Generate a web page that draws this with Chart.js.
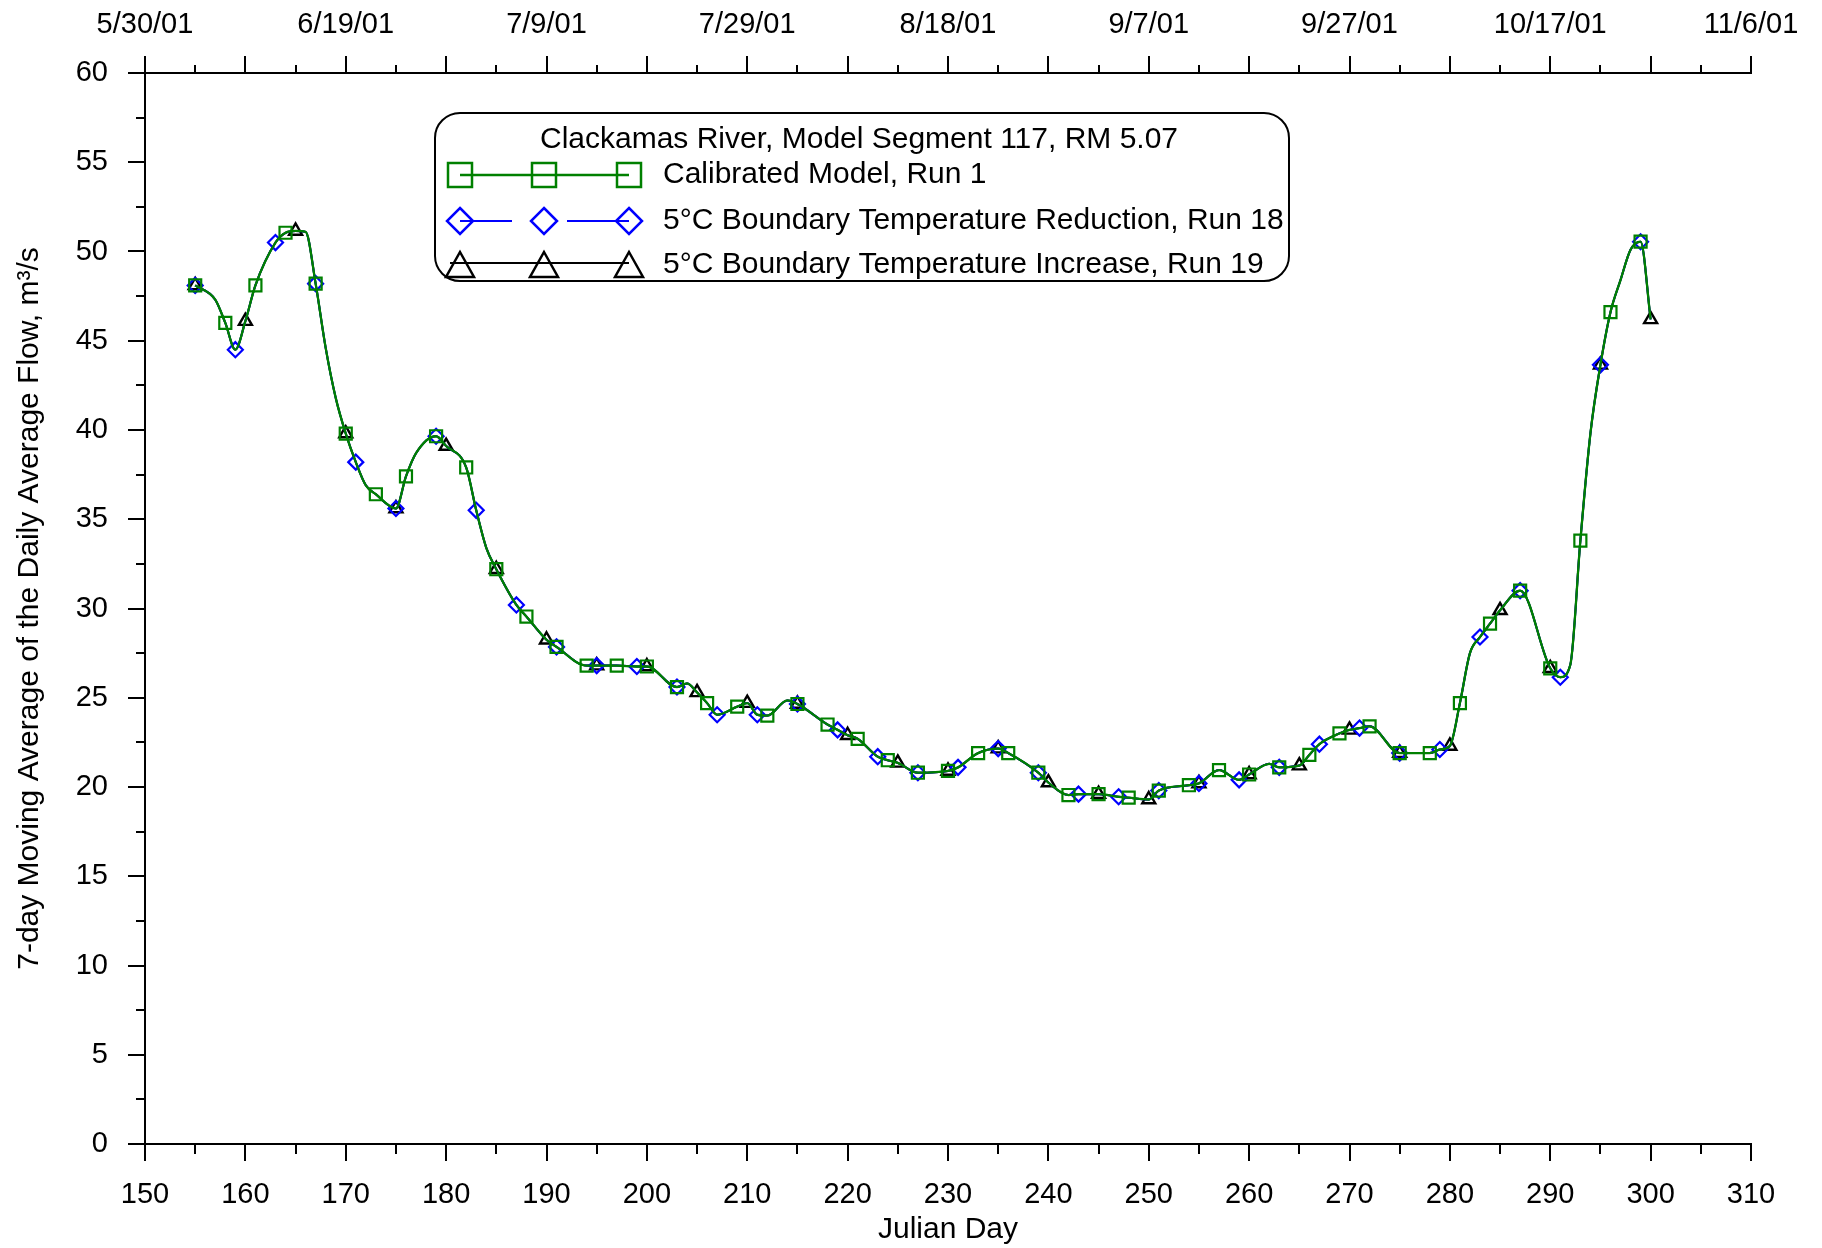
<!DOCTYPE html>
<html>
<head>
<meta charset="utf-8">
<title>Clackamas River, Model Segment 117</title>
<script src="https://cdn.jsdelivr.net/npm/chart.js@4.4.1/dist/chart.umd.min.js"></script>
<style>
  html, body { margin: 0; padding: 0; background: #fff; }
</style>
</head>
<body>
<canvas id="flowChart" width="1822" height="1248"></canvas>
<script>
// Julian day / 7-day average flow (m3/s).
// The three runs give the same flow, so their curves lie on top of each other;
// they differ only in where the markers sit.
var flowDays = [155, 157, 158, 159, 160, 161, 163, 164, 165, 166,
  167, 168, 169, 170, 171, 172, 173, 175, 176, 177,
  179, 180, 182, 183, 184, 185, 187, 188, 190, 191,
  194, 195, 197, 199, 200, 203, 204, 205, 206, 207,
  209, 210, 211, 212, 214, 215, 218, 219, 220, 221,
  223, 224, 225, 227, 230, 231, 233, 235, 236, 239,
  240, 242, 243, 245, 247, 248, 250, 251, 254, 255,
  257, 259, 260, 262, 263, 265, 266, 267, 269, 270,
  271, 272, 275, 278, 279, 280, 281, 282, 283, 284,
  285, 287, 290, 291, 292, 293, 294, 295, 296, 297,
  298, 299, 300];
var simFlow = [48.1, 47.3, 46.0, 44.5, 46.1, 48.1, 50.5, 51.05, 51.15, 51.1,
  48.2, 44.6, 41.8, 39.8, 38.2, 36.9, 36.4, 35.6, 37.4, 38.7,
  39.65, 39.1, 37.9, 35.5, 33.4, 32.2, 30.2, 29.55, 28.25, 27.85,
  26.8, 26.8, 26.8, 26.75, 26.75, 25.6, 25.8, 25.3, 24.7, 24.05,
  24.5, 24.7, 24.05, 24.0, 24.85, 24.65, 23.5, 23.2, 22.9, 22.7,
  21.7, 21.5, 21.35, 20.8, 20.9, 21.1, 21.9, 22.15, 21.9, 20.8,
  20.25, 19.55, 19.6, 19.6, 19.45, 19.4, 19.3, 19.8, 20.1, 20.2,
  20.95, 20.4, 20.7, 21.3, 21.1, 21.2, 21.8, 22.4, 23.0, 23.2,
  23.3, 23.4, 21.9, 21.9, 22.1, 22.3, 24.7, 27.5, 28.4, 29.15,
  29.9, 31.0, 26.65, 26.15, 26.85, 33.8, 39.8, 43.65, 46.6, 48.4,
  50.1, 50.55, 46.2];

// marker spacing in days for run 1, run 18, run 19 (all start on day 155)
var markerStep = [3, 4, 5];

// top axis dates, one every 20 days from day 150
var dateTickLabels = ['5/30/01', '6/19/01', '7/9/01', '7/29/01', '8/18/01',
  '9/7/01', '9/27/01', '10/17/01', '11/6/01'];

var boxTitle = 'Clackamas River, Model Segment 117, RM 5.07';
var seriesNames = ['Calibrated Model, Run 1',
  '5\u00B0C Boundary Temperature Reduction, Run 18',
  '5\u00B0C Boundary Temperature Increase, Run 19'];

var FONT = "'Liberation Sans', Arial, sans-serif";

function toPoints(days, vals) {
  return days.map(function (d, i) { return { x: d, y: vals[i] }; });
}

function markerRadius(step, r) {
  return function (c) {
    return (flowDays[c.dataIndex] - 155) % step === 0 ? r : 0;
  };
}

// minor tick marks (Chart.js only does one tick length per axis)
var minorTicks = {
  id: 'minorTicks',
  afterDraw: function (chart) {
    var ctx = chart.ctx, x = chart.scales.x, x2 = chart.scales.x2, y = chart.scales.y;
    ctx.save();
    ctx.strokeStyle = '#000';
    ctx.lineWidth = 2;
    ctx.beginPath();
    for (var d = 155; d < 310; d += 10) {
      var px = Math.round(x.getPixelForValue(d));
      ctx.moveTo(px, x.top);
      ctx.lineTo(px, x.top + 10);
      ctx.moveTo(px, x2.bottom);
      ctx.lineTo(px, x2.bottom - 8);
    }
    for (var v = 2.5; v < 60; v += 5) {
      var py = Math.round(y.getPixelForValue(v));
      ctx.moveTo(y.right, py);
      ctx.lineTo(y.right - 9, py);
    }
    ctx.stroke();
    ctx.restore();
  }
};

// rounded legend box with its own title
var legendBox = {
  id: 'legendBox',
  afterDraw: function (chart) {
    var ctx = chart.ctx, area = chart.chartArea;
    var left = area.left + 290, top = area.top + 40;
    var w = 854, h = 168, r = 25;
    ctx.save();
    ctx.beginPath();
    ctx.moveTo(left + r, top);
    ctx.lineTo(left + w - r, top);
    ctx.arcTo(left + w, top, left + w, top + r, r);
    ctx.lineTo(left + w, top + h - r);
    ctx.arcTo(left + w, top + h, left + w - r, top + h, r);
    ctx.lineTo(left + r, top + h);
    ctx.arcTo(left, top + h, left, top + h - r, r);
    ctx.lineTo(left, top + r);
    ctx.arcTo(left, top, left + r, top, r);
    ctx.closePath();
    ctx.fillStyle = '#fff';
    ctx.fill();
    ctx.strokeStyle = '#000';
    ctx.lineWidth = 2;
    ctx.stroke();

    ctx.fillStyle = '#000';
    ctx.font = '30px ' + FONT;
    ctx.textBaseline = 'middle';
    ctx.textAlign = 'center';
    ctx.fillText(boxTitle, left + w / 2 - 3, top + 27);

    var rows = [top + 62, top + 108, top + 152];
    var sx = [left + 25, left + 109, left + 194];
    ctx.textAlign = 'left';
    rows.forEach(function (ry, i) {
      ctx.fillText(seriesNames[i], left + 228, ry);
    });

    ctx.lineWidth = 2.5;
    // green squares
    ctx.strokeStyle = '#008000';
    ctx.beginPath();
    ctx.moveTo(sx[0], rows[0]);
    ctx.lineTo(sx[2], rows[0]);
    ctx.stroke();
    sx.forEach(function (cx) { ctx.strokeRect(cx - 12, rows[0] - 12, 24, 24); });
    // blue diamonds
    ctx.strokeStyle = '#0000ff';
    ctx.lineWidth = 2;
    ctx.beginPath();
    ctx.moveTo(sx[0], rows[1]);
    ctx.lineTo(sx[1] - 32, rows[1]);
    ctx.moveTo(sx[1] + 23, rows[1]);
    ctx.lineTo(sx[2], rows[1]);
    ctx.stroke();
    ctx.lineWidth = 2.5;
    sx.forEach(function (cx) {
      ctx.beginPath();
      ctx.moveTo(cx, rows[1] - 13);
      ctx.lineTo(cx + 13, rows[1]);
      ctx.lineTo(cx, rows[1] + 13);
      ctx.lineTo(cx - 13, rows[1]);
      ctx.closePath();
      ctx.stroke();
    });
    // black triangles
    ctx.strokeStyle = '#000';
    ctx.lineWidth = 2;
    ctx.beginPath();
    ctx.moveTo(sx[0] - 10, rows[2] - 2);
    ctx.lineTo(sx[2], rows[2] - 2);
    ctx.stroke();
    ctx.lineWidth = 2.5;
    sx.forEach(function (cx) {
      ctx.beginPath();
      ctx.moveTo(cx, rows[2] - 13);
      ctx.lineTo(cx + 14, rows[2] + 12);
      ctx.lineTo(cx - 14, rows[2] + 12);
      ctx.closePath();
      ctx.stroke();
    });
    ctx.restore();
  }
};

var axisGrid = {
  display: true,
  drawOnChartArea: false,
  drawTicks: true,
  tickLength: 17,
  tickWidth: 2,
  tickColor: '#000',
  color: '#000',
  lineWidth: 2
};
var axisBorder = { display: true, color: '#000', width: 2 };
var tickFont = { family: FONT, size: 29 };
var titleFont = { family: FONT, size: 30 };

new Chart(document.getElementById('flowChart'), {
  type: 'line',
  data: {
    datasets: [
      {
        label: seriesNames[0],
        data: toPoints(flowDays, simFlow),
        borderColor: '#008000',
        borderWidth: 2.3,
        pointStyle: 'rect',
        pointRadius: markerRadius(markerStep[0], 8.5),
        pointBorderColor: '#008000',
        pointBackgroundColor: 'rgba(0,0,0,0)',
        pointBorderWidth: 2.2,
        cubicInterpolationMode: 'monotone',
        fill: false
      },
      {
        label: seriesNames[1],
        data: toPoints(flowDays, simFlow),
        borderColor: '#0000ff',
        borderWidth: 2,
        pointStyle: 'rectRot',
        pointRadius: markerRadius(markerStep[1], 7.5),
        pointBorderColor: '#0000ff',
        pointBackgroundColor: 'rgba(0,0,0,0)',
        pointBorderWidth: 2.2,
        cubicInterpolationMode: 'monotone',
        fill: false
      },
      {
        label: seriesNames[2],
        data: toPoints(flowDays, simFlow),
        borderColor: '#000',
        borderWidth: 2,
        pointStyle: 'triangle',
        pointRadius: markerRadius(markerStep[2], 7.5),
        pointBorderColor: '#000',
        pointBackgroundColor: 'rgba(0,0,0,0)',
        pointBorderWidth: 2.4,
        cubicInterpolationMode: 'monotone',
        fill: false
      }
    ]
  },
  options: {
    responsive: false,
    animation: false,
    events: [],
    layout: { padding: { left: 0, right: 71, top: 0, bottom: 0 } },
    plugins: {
      legend: { display: false },
      tooltip: { enabled: false }
    },
    scales: {
      x: {
        type: 'linear',
        position: 'bottom',
        min: 150,
        max: 310,
        ticks: { stepSize: 10, autoSkip: false, maxRotation: 0, padding: 17, color: '#000', font: tickFont },
        grid: axisGrid,
        border: axisBorder,
        title: { display: true, text: 'Julian Day', color: '#000', font: titleFont, padding: { top: 0, bottom: 0 } },
        afterFit: function (s) { s.height = 104; }
      },
      x2: {
        type: 'linear',
        position: 'top',
        min: 150,
        max: 310,
        ticks: {
          stepSize: 10, autoSkip: false, maxRotation: 0, padding: 14, color: '#000', font: tickFont,
          callback: function (v) {
            var i = (v - 150) / 20;
            return Number.isInteger(i) ? dateTickLabels[i] : '';
          }
        },
        grid: axisGrid,
        border: axisBorder,
        afterFit: function (s) { s.height = 73; }
      },
      y: {
        type: 'linear',
        position: 'left',
        min: 0,
        max: 60,
        ticks: { stepSize: 5, padding: 20, color: '#000', font: tickFont },
        grid: axisGrid,
        border: axisBorder,
        title: {
          display: true,
          text: '7-day Moving Average of the Daily Average Flow, m\u00B3/s',
          color: '#000', font: titleFont, padding: { top: 12, bottom: 0 }
        },
        afterFit: function (s) { s.width = 145; }
      }
    }
  },
  plugins: [minorTicks, legendBox]
});
</script>
</body>
</html>
